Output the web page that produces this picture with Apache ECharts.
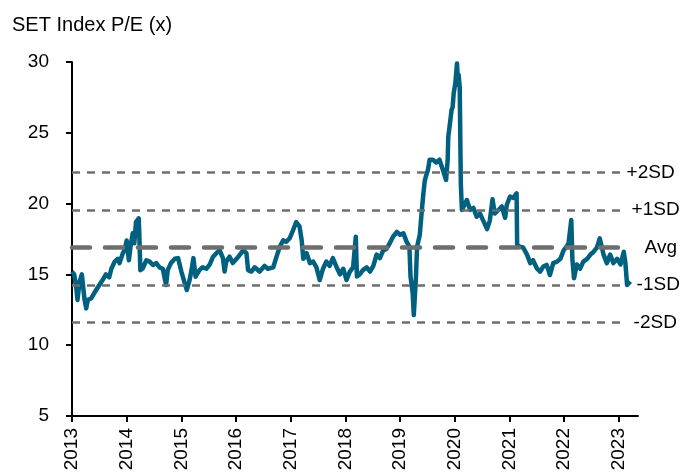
<!DOCTYPE html>
<html>
<head>
<meta charset="utf-8">
<script src="https://cdn.jsdelivr.net/npm/echarts@6/dist/echarts.min.js"></script>
<style>
  html, body { margin: 0; padding: 0; background: #fff; }
  #chart { width: 682px; height: 476px; }
</style>
</head>
<body>
<div id="chart"></div>
<script>
// decimal years
var dates = [
  2013.00, 2013.04, 2013.08, 2013.10, 2013.14, 2013.18, 2013.23, 2013.26, 2013.29, 2013.35,
  2013.41, 2013.50, 2013.56, 2013.62, 2013.68, 2013.72, 2013.78, 2013.84, 2013.87, 2013.93,
  2013.96, 2014.00, 2014.04, 2014.07, 2014.11, 2014.14, 2014.17, 2014.22, 2014.23, 2014.25,
  2014.29, 2014.36, 2014.42, 2014.48, 2014.54, 2014.60, 2014.66, 2014.72, 2014.75, 2014.81,
  2014.88, 2014.94, 2015.00, 2015.06, 2015.10, 2015.15, 2015.19, 2015.22, 2015.26, 2015.33,
  2015.39, 2015.46, 2015.52, 2015.58, 2015.64, 2015.70, 2015.76, 2015.79, 2015.82, 2015.88,
  2015.94, 2016.01, 2016.07, 2016.13, 2016.19, 2016.22, 2016.28, 2016.34, 2016.43, 2016.52,
  2016.58, 2016.68, 2016.74, 2016.80, 2016.86, 2016.92, 2016.98, 2017.04, 2017.10, 2017.16,
  2017.20, 2017.23, 2017.29, 2017.35, 2017.41, 2017.47, 2017.53, 2017.59, 2017.65, 2017.71,
  2017.77, 2017.84, 2017.90, 2017.96, 2018.02, 2018.08, 2018.14, 2018.19, 2018.21, 2018.26,
  2018.32, 2018.39, 2018.45, 2018.51, 2018.57, 2018.63, 2018.69, 2018.75, 2018.81, 2018.87,
  2018.94, 2019.00, 2019.06, 2019.12, 2019.17, 2019.19, 2019.23, 2019.25, 2019.29, 2019.31,
  2019.36, 2019.39, 2019.42, 2019.45, 2019.47, 2019.51, 2019.54, 2019.60, 2019.66, 2019.72,
  2019.78, 2019.84, 2019.87, 2019.88, 2019.90, 2019.94, 2019.96, 2019.98, 2020.01, 2020.04,
  2020.06, 2020.07, 2020.09, 2020.11, 2020.13, 2020.22, 2020.28, 2020.34, 2020.40, 2020.46,
  2020.52, 2020.59, 2020.64, 2020.69, 2020.73, 2020.80, 2020.86, 2020.92, 2020.95, 2021.01,
  2021.07, 2021.13, 2021.14, 2021.19, 2021.25, 2021.32, 2021.38, 2021.43, 2021.50, 2021.56,
  2021.62, 2021.68, 2021.74, 2021.80, 2021.87, 2021.93, 2021.99, 2022.05, 2022.08, 2022.13,
  2022.15, 2022.18, 2022.23, 2022.29, 2022.35, 2022.42, 2022.48, 2022.54, 2022.60, 2022.65,
  2022.72, 2022.78, 2022.84, 2022.90, 2022.97, 2023.03, 2023.09, 2023.12, 2023.15, 2023.21
];
var pe = [
  15.2, 15.0, 14.0, 13.2, 14.5, 15.0, 13.2, 12.6, 13.2, 13.3,
  13.7, 14.25, 14.6, 15.0, 14.8, 15.4, 15.9, 16.1, 15.8, 16.5,
  16.7, 17.4, 16.0, 16.95, 17.9, 17.2, 18.7, 18.96, 17.9, 15.3,
  15.4, 16.0, 15.9, 15.66, 15.8, 15.5, 15.4, 14.25, 15.3, 15.8,
  16.1, 16.15, 15.2, 14.4, 13.9, 14.6, 15.4, 16.15, 14.84, 15.3,
  15.5, 15.4, 15.7, 16.25, 16.5, 16.7, 16.15, 15.2, 15.9, 16.25,
  15.8, 16.1, 16.4, 16.7, 16.5, 15.3, 15.2, 15.5, 15.2, 15.6,
  15.4, 15.5, 16.25, 16.95, 17.4, 17.3, 17.55, 18.1, 18.7, 18.4,
  17.4, 16.1, 16.5, 15.8, 15.9, 15.5, 14.6, 15.4, 15.9, 15.6,
  16.15, 15.5, 15.0, 15.4, 14.6, 15.2, 15.5, 17.66, 14.85, 15.0,
  15.3, 15.5, 15.2, 15.6, 16.4, 16.15, 16.7, 16.8, 17.2, 17.66,
  18.0, 17.8, 17.9, 17.3, 16.95, 14.85, 13.67, 12.13, 14.85, 16.95,
  17.8, 19.2, 20.5, 21.6, 21.9, 22.4, 23.1, 23.1, 22.9, 23.1,
  22.4, 21.67, 23.1, 24.7, 25.3, 26.6, 26.8, 27.8, 28.5, 29.9,
  28.4, 29.1, 28.2, 21.4, 19.55, 20.25, 19.55, 19.7, 19.07, 19.3,
  18.8, 18.2, 18.8, 20.3, 19.3, 19.55, 19.8, 19.0, 19.9, 20.5,
  20.4, 20.73, 17.1, 16.95, 16.9, 16.4, 15.8, 16.0, 15.43, 15.2,
  15.55, 15.67, 14.96, 15.8, 15.9, 16.1, 16.7, 17.0, 17.2, 18.84,
  16.1, 14.73, 15.7, 15.4, 15.9, 16.1, 16.4, 16.6, 16.9, 17.55,
  16.4, 15.8, 16.4, 15.8, 16.1, 15.7, 16.6, 15.8, 14.25, 14.5
];
var yearTicks = [2013, 2014, 2015, 2016, 2017, 2018, 2019, 2020, 2021, 2022, 2023];
var bandNames = ['+2SD', '+1SD', 'Avg', '-1SD', '-2SD'];
var bandValues = [22.2, 19.55, 16.9, 14.25, 11.6];
var bandStart = 2013;
var bandEnd = 2023.05;

var font = 'Liberation Sans, Arial, sans-serif';
// gap between line end and its label
var labelGap = { '+2SD': 5, '+1SD': 10, 'Avg': 23, '-1SD': 15, '-2SD': 12 };

var chart = echarts.init(document.getElementById('chart'));

var seriesData = dates.map(function (d, i) { return [d, pe[i]]; });

var bandLines = bandNames.map(function (name, i) {
  var isAvg = name === 'Avg';
  return [
    {
      coord: [bandStart, bandValues[i]],
      lineStyle: {
        color: '#6e6e6e',
        width: isAvg ? 4.5 : 2.5,
        type: isAvg ? [18, 15] : [8, 7],
        cap: isAvg ? 'round' : 'butt'
      },
      label: {
        show: true,
        position: 'end',
        formatter: name,
        distance: labelGap[name],
        color: '#000',
        fontSize: 19,
        fontFamily: font
      }
    },
    { coord: [bandEnd, bandValues[i]] }
  ];
});

var option = {
  animation: false,
  title: {
    text: 'SET Index P/E (x)',
    left: 7,
    top: 10,
    textStyle: { fontSize: 20, fontWeight: 'normal', color: '#000', fontFamily: font }
  },
  grid: { left: 72, right: 44, top: 62, bottom: 60 },
  xAxis: {
    type: 'value',
    min: 2013,
    max: 2023.35,
    axisLine: { lineStyle: { color: '#000', width: 2 } },
    axisTick: { show: true, length: 6, lineStyle: { color: '#000', width: 2 }, customValues: yearTicks },
    axisLabel: {
      rotate: 90,
      margin: 12,
      fontSize: 19,
      color: '#000',
      fontFamily: font,
      customValues: yearTicks,
      formatter: function (v) { return String(Math.round(v)); }
    },
    splitLine: { show: false }
  },
  yAxis: {
    type: 'value',
    min: 5,
    max: 30,
    interval: 5,
    axisLine: { show: true, lineStyle: { color: '#000', width: 2 } },
    axisTick: { show: true, length: 6, lineStyle: { color: '#000', width: 2 } },
    axisLabel: { margin: 23, fontSize: 19, color: '#000', fontFamily: font },
    splitLine: { show: false }
  },
  series: [
    {
      type: 'line',
      data: seriesData,
      showSymbol: false,
      symbol: 'none',
      lineStyle: { color: '#00607f', width: 4.5, join: 'round' },
      z: 2
    },
    {
      type: 'line',
      data: [],
      z: 3,
      markLine: {
        silent: true,
        symbol: ['none', 'none'],
        animation: false,
        data: bandLines
      }
    }
  ]
};

chart.setOption(option);
</script>
</body>
</html>
